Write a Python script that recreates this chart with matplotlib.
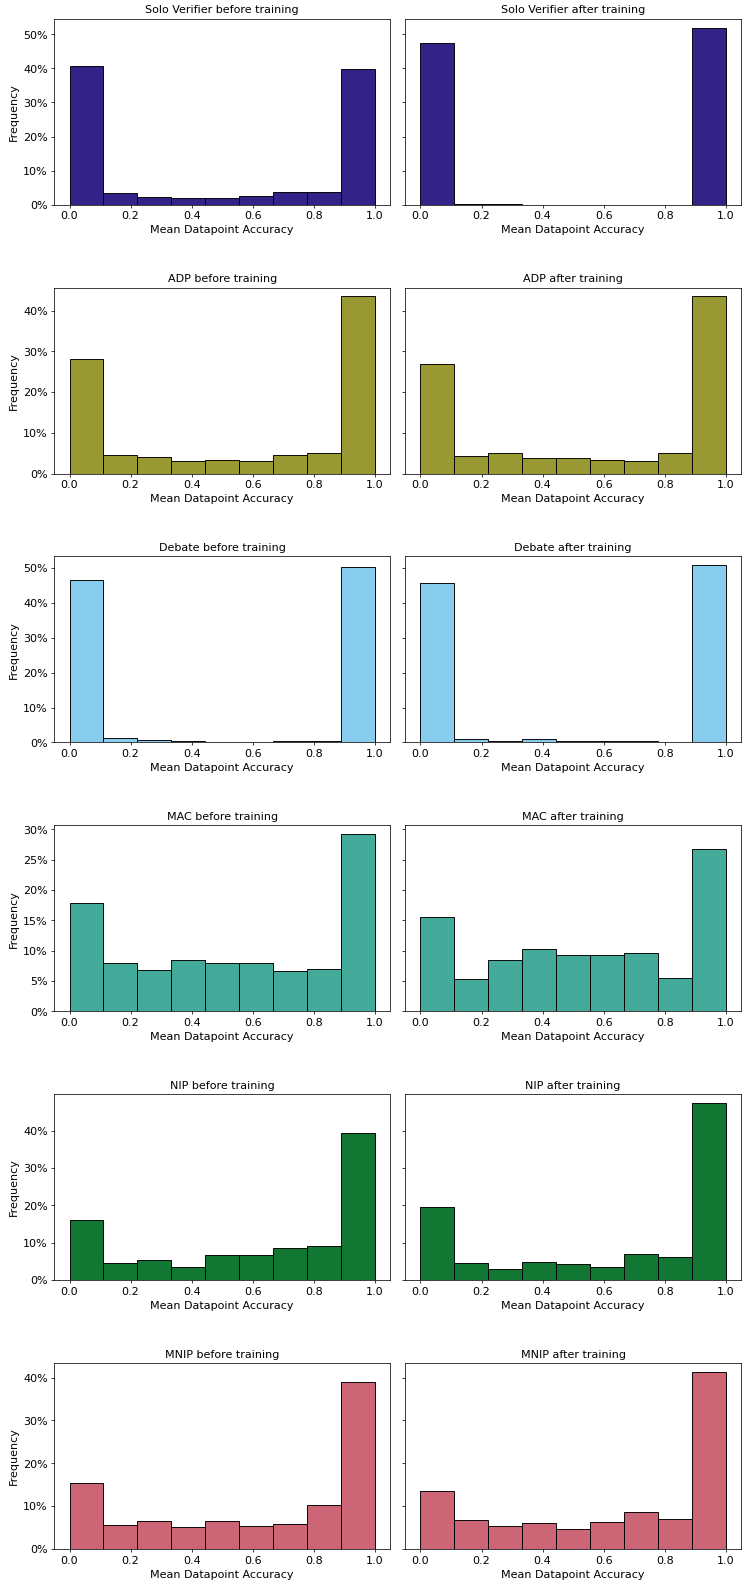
import numpy as np
import matplotlib
matplotlib.use("Agg")
import matplotlib.pyplot as plt
from matplotlib.ticker import PercentFormatter

# bin edges: 9 equal bins over [0, 1]
EDGES = np.linspace(0, 1, 10)

METHODS = ["Solo Verifier", "ADP", "Debate", "MAC", "NIP", "MNIP"]
COLORS = ["#332288", "#999933", "#88CCEE", "#44AA99", "#117733", "#CC6677"]

# frequency (%) per bin
solo_before = [40.6, 3.5, 2.2, 1.9, 1.9, 2.5, 3.7, 3.7, 39.9]
solo_after = [47.6, 0.1, 0.3, 0.0, 0.0, 0.0, 0.0, 0.0, 52.0]
adp_before = [28.1, 4.6, 4.1, 3.0, 3.4, 3.1, 4.6, 5.1, 43.5]
adp_after = [27.0, 4.4, 5.1, 3.9, 3.8, 3.4, 3.1, 5.1, 43.5]
debate_before = [46.7, 1.15, 0.7, 0.3, 0.2, 0.0, 0.3, 0.3, 50.2]
debate_after = [45.6, 0.9, 0.5, 0.9, 0.5, 0.5, 0.3, 0.15, 50.8]
mac_before = [17.85, 8.0, 6.75, 8.45, 8.0, 8.0, 6.6, 7.0, 29.2]
mac_after = [15.5, 5.3, 8.5, 10.3, 9.3, 9.3, 9.6, 5.5, 26.8]
nip_before = [16.0, 4.6, 5.4, 3.4, 6.8, 6.8, 8.6, 9.1, 39.5]
nip_after = [19.6, 4.6, 3.0, 4.8, 4.4, 3.5, 6.9, 6.2, 47.4]
mnip_before = [15.3, 5.7, 6.5, 5.1, 6.5, 5.4, 5.8, 10.2, 38.9]
mnip_after = [13.5, 6.7, 5.4, 6.0, 4.65, 6.4, 8.7, 7.05, 41.3]

BEFORE = [solo_before, adp_before, debate_before, mac_before, nip_before, mnip_before]
AFTER = [solo_after, adp_after, debate_after, mac_after, nip_after, mnip_after]

DPI = 66.7


def main():
    plt.rcParams["font.size"] = 12
    fig, axes = plt.subplots(6, 2, figsize=(743.3 / DPI, 1585.3 / DPI), dpi=DPI, sharey="row")
    fig.subplots_adjust(left=0.073, right=0.997, top=0.988, bottom=0.0227,
                        wspace=0.045, hspace=0.446)
    width = EDGES[1] - EDGES[0]

    for i, (name, color) in enumerate(zip(METHODS, COLORS)):
        for j, (vals, stage) in enumerate([(BEFORE[i], "before"), (AFTER[i], "after")]):
            ax = axes[i, j]
            ax.bar(EDGES[:-1], vals, width=width, align="edge", color=color,
                   edgecolor="black", linewidth=1.0)
            ax.set_title(f"{name} {stage} training", fontsize=12)
            ax.set_xlabel("Mean Datapoint Accuracy", fontsize=12)
            ax.set_xticks([0.0, 0.2, 0.4, 0.6, 0.8, 1.0])
            ax.tick_params(labelsize=12)
            ax.yaxis.set_major_formatter(PercentFormatter(100, decimals=0))
        axes[i, 0].set_ylabel("Frequency", fontsize=12)

    fig.savefig("out.png", dpi=DPI)


if __name__ == "__main__":
    main()
